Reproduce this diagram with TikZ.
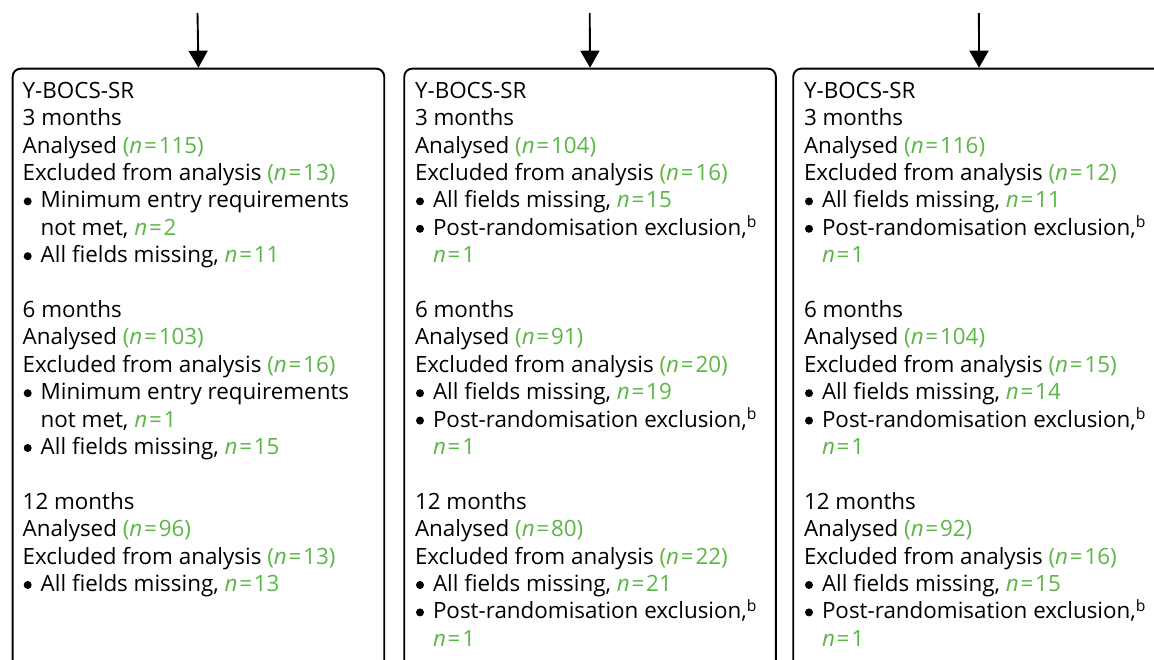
\documentclass[tikz,border=0pt]{standalone}
\usepackage{fontspec}
\setmainfont{Open Sans}
\usetikzlibrary{arrows.meta}
\definecolor{ngreen}{RGB}{92,182,70}
\newcommand{\nn}[1]{{\color{ngreen}\textit{n}\kern1.8pt=\kern1.8pt#1}}
\newcommand{\pn}[1]{{\color{ngreen}(\textit{n}\kern1.8pt=\kern1.8pt#1)}}
\newcommand{\bul}{\hbox to 18pt{\kern1pt\tikz[baseline=0pt]\fill (0pt,6.5pt) circle (4pt);\hfil}}
\newcommand{\ind}{\hbox to 18pt{\hfil}}
\newcommand{\rl}[1]{\hbox{#1}}
\tikzset{
  panel/.style={draw, line width=1.9pt, rounded corners=8pt, minimum width=371.6pt, minimum height=700pt, anchor=north west, inner sep=0pt},
  flow/.style={line width=1.9pt, -{Triangle[width=19pt,length=17pt]}},
  body/.style={anchor=base west, inner sep=0pt, font=\fontsize{22.4}{27.4}\selectfont}
}
\begin{document}
\begin{tikzpicture}[x=1pt,y=1pt]
\useasboundingbox (0,0) rectangle (1154,-659);
\clip (0,0) rectangle (1154,-659);
\node[panel] (b1) at (11.7,-67.7) {};
\node[panel] (b2) at (403.3,-67.7) {};
\node[panel] (b3) at (792.3,-67.7) {};
\coordinate (s1) at (197.5,-13);
\coordinate (s2) at (589.7,-13);
\coordinate (s3) at (978.9,-13);
\draw[flow] (s1) -- (b1.north);
\draw[flow] (s2) -- (b2.north);
\draw[flow] (s3) -- (b3.north);
\node[body] (t1) at (22.5,-98.3) {\vtop{\baselineskip=27.4pt\lineskiplimit=-100pt
\rl{Y-BOCS-SR}
\rl{3 months}
\rl{Analysed \pn{115}}
\rl{Excluded from analysis \pn{13}}
\rl{\bul Minimum entry requirements}
\rl{\ind not met, \nn{2}}
\rl{\bul All fields missing, \nn{11}}
\rl{}
\rl{6 months}
\rl{Analysed \pn{103}}
\rl{Excluded from analysis \pn{16}}
\rl{\bul Minimum entry requirements}
\rl{\ind not met, \nn{1}}
\rl{\bul All fields missing, \nn{15}}
\rl{}
\rl{12 months}
\rl{Analysed \pn{96}}
\rl{Excluded from analysis \pn{13}}
\rl{\bul All fields missing, \nn{13}}
}};
\node[body] (t2) at (414.8,-98.3) {\vtop{\baselineskip=27.4pt\lineskiplimit=-100pt
\rl{Y-BOCS-SR}
\rl{3 months}
\rl{Analysed \pn{104}}
\rl{Excluded from analysis \pn{16}}
\rl{\bul All fields missing, \nn{15}}
\rl{\bul Post-randomisation exclusion,\textsuperscript{b}}
\rl{\ind \nn{1}}
\rl{}
\rl{6 months}
\rl{Analysed \pn{91}}
\rl{Excluded from analysis \pn{20}}
\rl{\bul All fields missing, \nn{19}}
\rl{\bul Post-randomisation exclusion,\textsuperscript{b}}
\rl{\ind \nn{1}}
\rl{}
\rl{12 months}
\rl{Analysed \pn{80}}
\rl{Excluded from analysis \pn{22}}
\rl{\bul All fields missing, \nn{21}}
\rl{\bul Post-randomisation exclusion,\textsuperscript{b}}
\rl{\ind \nn{1}}
}};
\node[body] (t3) at (803.8,-98.3) {\vtop{\baselineskip=27.4pt\lineskiplimit=-100pt
\rl{Y-BOCS-SR}
\rl{3 months}
\rl{Analysed \pn{116}}
\rl{Excluded from analysis \pn{12}}
\rl{\bul All fields missing, \nn{11}}
\rl{\bul Post-randomisation exclusion,\textsuperscript{b}}
\rl{\ind \nn{1}}
\rl{}
\rl{6 months}
\rl{Analysed \pn{104}}
\rl{Excluded from analysis \pn{15}}
\rl{\bul All fields missing, \nn{14}}
\rl{\bul Post-randomisation exclusion,\textsuperscript{b}}
\rl{\ind \nn{1}}
\rl{}
\rl{12 months}
\rl{Analysed \pn{92}}
\rl{Excluded from analysis \pn{16}}
\rl{\bul All fields missing, \nn{15}}
\rl{\bul Post-randomisation exclusion,\textsuperscript{b}}
\rl{\ind \nn{1}}
}};
\end{tikzpicture}
\end{document}
